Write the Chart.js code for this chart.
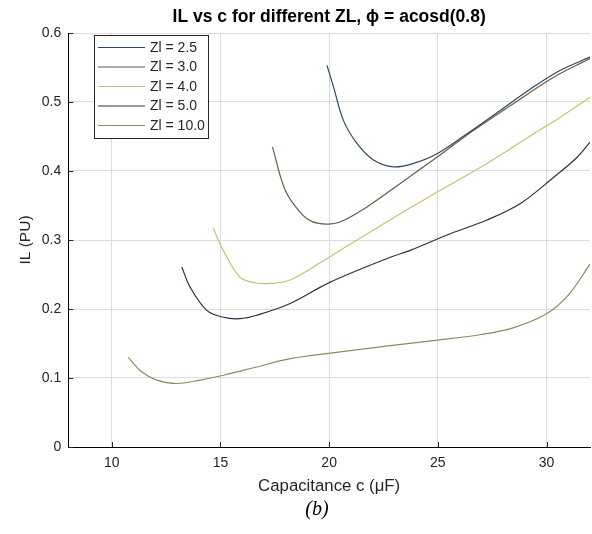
<!DOCTYPE html>
<html>
<head>
<meta charset="utf-8">
<script src="https://cdn.jsdelivr.net/npm/chart.js@4/dist/chart.umd.min.js"></script>
<style>
  html, body { margin: 0; padding: 0; background: #ffffff; }
  #wrap { width: 592px; height: 534px; }
</style>
</head>
<body>
<div id="wrap"><canvas id="c" width="592" height="534"></canvas></div>
<script>
// ---- data ----
const seriesLabels = ['Zl = 2.5', 'Zl = 3.0', 'Zl = 4.0', 'Zl = 5.0', 'Zl = 10.0'];
const seriesColors = ['#2a4866', '#6a5a46', '#c9bf72', '#2e2e4c', '#8e8c5c'];

const c25  = [19.9, 20.2, 20.66, 21.28, 22.04, 22.96, 23.88, 24.96, 26.34, 27.88, 29.41, 30.64, 32.0];
const il25 = [0.553, 0.522, 0.473, 0.440, 0.416, 0.406, 0.411, 0.425, 0.454, 0.488, 0.522, 0.546, 0.565];

const c30  = [17.39, 17.98, 18.67, 19.2, 19.9, 20.5, 21.74, 23.27, 24.96, 26.65, 28.49, 30.33, 32.0];
const il30 = [0.435, 0.372, 0.340, 0.327, 0.323, 0.326, 0.348, 0.382, 0.420, 0.459, 0.498, 0.536, 0.563];

const c40  = [14.67, 15.13, 15.9, 16.6, 17.3, 18.2, 19.74, 20.66, 23.27, 25.11, 27.26, 29.41, 30.64, 32.0];
const il40 = [0.317, 0.285, 0.246, 0.238, 0.237, 0.242, 0.270, 0.288, 0.338, 0.372, 0.411, 0.454, 0.478, 0.507];

const c50  = [13.22, 13.6, 14.37, 15.14, 15.9, 16.67, 18.21, 20.05, 22.81, 23.73, 25.57, 27.26, 28.8, 30.33, 31.41, 32.0];
const il50 = [0.261, 0.232, 0.198, 0.188, 0.186, 0.191, 0.208, 0.239, 0.275, 0.285, 0.309, 0.329, 0.353, 0.391, 0.420, 0.442];

const c100  = [10.76, 11.3, 12.07, 12.99, 14.06, 15.14, 16.67, 18.21, 20.05, 22.81, 25.0, 27.0, 28.5, 30.0, 31.0, 32.0];
const il100 = [0.130, 0.111, 0.097, 0.092, 0.097, 0.104, 0.116, 0.128, 0.136, 0.147, 0.155, 0.163, 0.173, 0.193, 0.220, 0.265];

const xTicks = [10, 15, 20, 25, 30];
const yTicks = [0, 0.1, 0.2, 0.3, 0.4, 0.5, 0.6];
const yTickLabels = ['0', '0.1', '0.2', '0.3', '0.4', '0.5', '0.6'];

const titleText = 'IL vs c for different ZL, \u03D5 = acosd(0.8)';
const xTitle = 'Capacitance c (\u03BCF)';
const yTitle = 'IL (PU)';
const captionText = '(b)';

// ---- build datasets ----
const xs = [c25, c30, c40, c50, c100];
const ys = [il25, il30, il40, il50, il100];
const datasets = seriesLabels.map((lab, i) => ({
  label: lab,
  data: xs[i].map((x, j) => ({ x: x, y: ys[i][j] })),
  borderColor: seriesColors[i],
  backgroundColor: seriesColors[i],
  borderWidth: 1.2,
  pointRadius: 0,
  fill: false,
  showLine: true,
  tension: 0.35
}));

const FONT = '"Liberation Sans", Arial, Helvetica, sans-serif';
const TXT = '#262626';

// inward tick marks
const innerTicks = {
  id: 'innerTicks',
  afterDatasetsDraw(chart) {
    const { ctx, chartArea: a, scales: { x, y } } = chart;
    ctx.save();
    ctx.strokeStyle = TXT;
    ctx.lineWidth = 1;
    ctx.beginPath();
    xTicks.forEach(v => {
      const px = Math.round(x.getPixelForValue(v)) + 0.5;
      ctx.moveTo(px, a.bottom); ctx.lineTo(px, a.bottom - 5);
    });
    yTicks.forEach(v => {
      const py = Math.round(y.getPixelForValue(v)) + 0.5;
      ctx.moveTo(a.left, py); ctx.lineTo(a.left + 5, py);
    });
    ctx.stroke();
    ctx.restore();
  }
};

// legend box inside the plot (top-left)
const boxLegend = {
  id: 'boxLegend',
  afterDraw(chart) {
    const { ctx } = chart;
    const bx = 94, by = 35, bw = 114, bh = 103;
    ctx.save();
    ctx.fillStyle = '#ffffff';
    ctx.fillRect(bx, by, bw, bh);
    ctx.strokeStyle = '#262626';
    ctx.lineWidth = 1;
    ctx.strokeRect(bx + 0.5, by + 0.5, bw, bh);
    ctx.font = '14px ' + FONT;
    ctx.textBaseline = 'middle';
    ctx.textAlign = 'left';
    chart.data.datasets.forEach((ds, i) => {
      const cy = by + 12.5 + i * 19.5;
      ctx.strokeStyle = ds.borderColor;
      ctx.lineWidth = 1.2;
      ctx.beginPath();
      ctx.moveTo(98, cy); ctx.lineTo(145, cy);
      ctx.stroke();
      ctx.fillStyle = TXT;
      ctx.fillText(ds.label, 150, cy + 0.5);
    });
    ctx.restore();
  }
};

// figure caption under the axes
const caption = {
  id: 'caption',
  afterDraw(chart) {
    const { ctx } = chart;
    ctx.save();
    ctx.fillStyle = '#000000';
    ctx.font = 'italic 20px "Liberation Serif", "Times New Roman", serif';
    ctx.textAlign = 'center';
    ctx.textBaseline = 'middle';
    ctx.fillText(captionText, 317, 510);
    ctx.restore();
  }
};

new Chart(document.getElementById('c'), {
  type: 'scatter',
  data: { datasets },
  plugins: [innerTicks, boxLegend, caption],
  options: {
    responsive: false,
    animation: false,
    layout: { padding: { left: 0, right: 2, top: 0, bottom: 33 } },
    plugins: {
      legend: { display: false },
      tooltip: { enabled: false },
      title: { display: false }
    },
    scales: {
      // top axis used only to carry the plot title, centred over the axes
      xTop: {
        type: 'linear',
        position: 'top',
        min: 8, max: 32,
        afterFit: s => { s.height = 33; },
        grid: { display: false, drawTicks: false },
        border: { display: false },
        ticks: { display: false },
        title: {
          display: true, text: titleText, color: '#000000',
          font: { family: FONT, size: 17.5, weight: 'bold', lineHeight: 1.2 },
          padding: { top: 6.5, bottom: 0 }
        }
      },
      x: {
        type: 'linear',
        min: 8, max: 32,
        afterBuildTicks: s => { s.ticks = xTicks.map(v => ({ value: v })); },
        afterFit: s => { s.height = 54; },
        grid: { color: '#dcdcdc', lineWidth: 1, drawTicks: false },
        border: { display: true, color: '#000000', width: 1 },
        ticks: { color: TXT, font: { family: FONT, size: 14 }, padding: 8, maxRotation: 0, autoSkip: false },
        title: {
          display: true, text: xTitle, color: TXT,
          font: { family: FONT, size: 16.8, lineHeight: 1.2 },
          padding: { top: 0, bottom: 5 }
        }
      },
      y: {
        type: 'linear',
        min: 0, max: 0.6,
        afterBuildTicks: s => { s.ticks = yTicks.map(v => ({ value: v })); },
        afterFit: s => { s.width = 68.3; },
        grid: { color: '#dcdcdc', lineWidth: 1, drawTicks: false },
        border: { display: true, color: '#000000', width: 1 },
        ticks: {
          color: TXT, font: { family: FONT, size: 14 }, padding: 7, autoSkip: false,
          callback: (v) => { const k = yTicks.findIndex(t => Math.abs(t - v) < 1e-9); return k >= 0 ? yTickLabels[k] : ''; }
        },
        title: {
          display: true, text: yTitle, color: TXT,
          font: { family: FONT, size: 15.5, lineHeight: 1.2 },
          padding: { top: 16.7, bottom: 0 }
        }
      }
    }
  }
});
</script>
</body>
</html>
